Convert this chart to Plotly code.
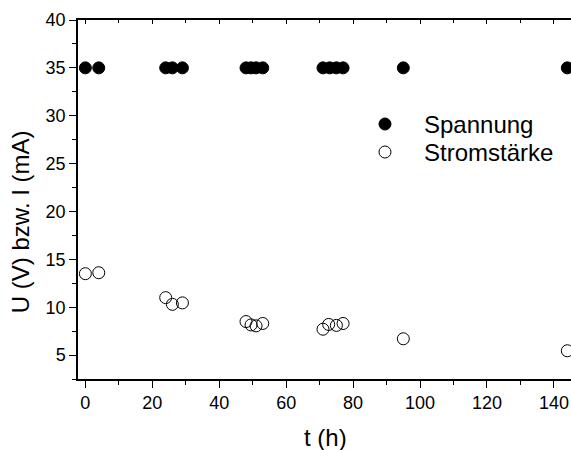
import plotly.graph_objects as go

# Measurement times (h) and readings
t_spannung = [0, 4, 24, 26, 29, 48, 49.5, 51, 53, 71, 73, 75, 77, 95, 144]
spannung = [35] * 15

t_strom = [0, 4, 24, 26, 29, 48, 49.5, 51, 53, 71, 72.7, 75, 77, 95, 144]
strom = [13.5, 13.6, 11.0, 10.3, 10.45, 8.5, 8.15, 8.05, 8.3, 7.7, 8.2, 8.1, 8.3, 6.7, 5.45]

series_names = ["Spannung", "Stromstärke"]

x_ticks = [0, 20, 40, 60, 80, 100, 120, 140]
y_ticks = [5, 10, 15, 20, 25, 30, 35, 40]

FONT = "Arial, Liberation Sans, sans-serif"
X_RANGE = [-2.2, 145.1]
Y_RANGE = [2.5, 40]

fig = go.Figure()
fig.add_trace(go.Scatter(
    x=t_spannung, y=spannung, mode="markers", name=series_names[0], showlegend=False,
    marker=dict(symbol="circle", size=12, color="black",
                line=dict(color="black", width=1)),
))
fig.add_trace(go.Scatter(
    x=t_strom, y=strom, mode="markers", name=series_names[1], showlegend=False,
    marker=dict(symbol="circle-open", size=12, color="black",
                line=dict(color="black", width=1)),
))

axis_common = dict(
    showline=True, linecolor="black", linewidth=1.5,
    showgrid=False, zeroline=False,
    tickcolor="black", tickwidth=1.2,
    tickfont=dict(family=FONT, size=18, color="black"),
)

# Hand-placed legend: symbol shapes (pixel sized) plus text annotations
legend_x_sym = 0.6227
legend_x_txt = 0.6978
legend_rows = [0.7103, 0.6323]
legend_fill = ["black", "white"]

shapes = []
annotations = []
for name, yrow, fill in zip(series_names, legend_rows, legend_fill):
    shapes.append(dict(
        type="circle", xref="paper", yref="paper",
        xsizemode="pixel", ysizemode="pixel",
        xanchor=legend_x_sym, yanchor=yrow,
        x0=-6, x1=6, y0=-6, y1=6,
        fillcolor=fill, line=dict(color="black", width=1),
    ))
    annotations.append(dict(
        text=name, xref="paper", yref="paper", x=legend_x_txt, y=yrow,
        xanchor="left", yanchor="middle", showarrow=False,
        font=dict(family=FONT, size=24, color="black"),
    ))

annotations += [
    dict(text="t (h)", xref="paper", yref="paper", x=0.503, y=-0.164,
         xanchor="center", yanchor="middle", showarrow=False,
         font=dict(family=FONT, size=24, color="black")),
    dict(text="U (V) bzw. I (mA)", xref="paper", yref="paper", x=-0.1176, y=0.437,
         xanchor="center", yanchor="middle", textangle=-90, showarrow=False,
         font=dict(family=FONT, size=24, color="black")),
]

fig.update_layout(
    width=571, height=450,
    margin=dict(l=78, r=0, t=20, b=71),
    paper_bgcolor="white", plot_bgcolor="white",
    font=dict(family=FONT, color="black"),
    showlegend=False,
    xaxis=dict(
        range=X_RANGE, tickvals=x_ticks, ticks="outside", ticklen=7,
        minor=dict(dtick=10, tick0=0, ticks="outside", ticklen=4,
                   tickcolor="black", tickwidth=1.2),
        **axis_common,
    ),
    xaxis2=dict(
        range=X_RANGE, overlaying="x", side="top", matches="x",
        tickvals=x_ticks, ticks="inside", ticklen=4, showticklabels=False,
        minor=dict(dtick=10, tick0=0, ticks="inside", ticklen=3,
                   tickcolor="black", tickwidth=1.2),
        **axis_common,
    ),
    yaxis=dict(
        range=Y_RANGE, tickvals=y_ticks, ticks="outside", ticklen=7,
        minor=dict(dtick=2.5, tick0=0, ticks="outside", ticklen=4,
                   tickcolor="black", tickwidth=1.2),
        **axis_common,
    ),
    shapes=shapes,
    annotations=annotations,
)

# Invisible trace carrying the top axis
fig.add_trace(go.Scatter(x=[0], y=[None], xaxis="x2", showlegend=False,
                         hoverinfo="skip", mode="markers"))

fig.write_html("out.html")
